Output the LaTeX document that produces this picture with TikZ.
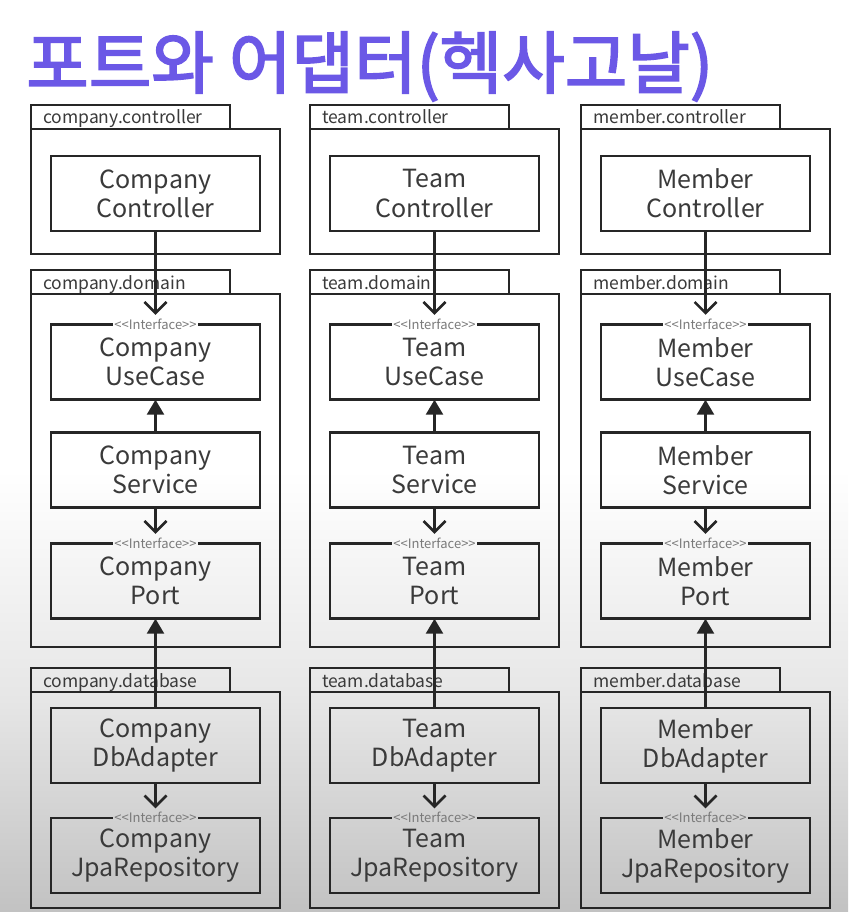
\documentclass[tikz,border=0pt]{standalone}
\usepackage{fontspec}
\setmainfont{Noto Sans CJK KR}
\newfontfamily\titlefont[FakeBold=2.5]{Noto Sans CJK KR}
\usetikzlibrary{arrows.meta}
\definecolor{linec}{HTML}{262626}
\definecolor{textc}{HTML}{3A3A3A}
\definecolor{ifc}{HTML}{7A7A7A}
\definecolor{titlec}{RGB}{107,88,230}
\definecolor{bgmid}{HTML}{E6E6E6}
\definecolor{bgbot}{HTML}{C2C2C2}
\newcommand\ifacetxt{<\kern0pt<Interface>\kern0pt>}
\begin{document}
\begin{tikzpicture}[x=1pt,y=-1pt,
  ln/.style={line width=2.5pt, draw=linec},
  box/.style={minimum width=209pt, minimum height=75pt, inner sep=0pt, align=center,
    font=\fontsize{25}{29}\selectfont, text=textc},
  iface/.style={font=\fontsize{13}{13}\selectfont, text=ifc, inner xsep=1.5pt, inner ysep=1pt},
  pkglbl/.style={anchor=base west, font=\fontsize{17.5}{19}\selectfont, text=textc, inner sep=0pt},
  dep/.style={ln, -{Straight Barb[length=11pt,width=22pt]}},
  real/.style={ln, -{Triangle[length=15pt,width=17pt]}},
]
\useasboundingbox (0,0) rectangle (848,912);
\fill[white] (0,0) rectangle (848,912);
\shade[top color=white, bottom color=bgmid] (0,470) rectangle (848,700);
\shade[top color=bgmid, bottom color=bgbot] (0,699.5) rectangle (848,912);

\node[anchor=base west, font=\titlefont\fontsize{68}{74}\selectfont, text=titlec, inner sep=0pt]
  (title) at (26,88) {포트와 어댑터(헥사고날)};

\foreach \i/\L/\N/\p in {1/31/Company/company, 2/310/Team/team, 3/581/Member/member}{
  % packages
  \draw[ln] (\L,105) rectangle (\L+199,129);
  \draw[ln] (\L,129) rectangle (\L+249,254);
  \node[pkglbl] (pc\i) at (\L+12,124) {\p.controller};
  \draw[ln] (\L,270) rectangle (\L+199,294);
  \draw[ln] (\L,294) rectangle (\L+249,647);
  \node[pkglbl] (pd\i) at (\L+12,289) {\p.domain};
  \draw[ln] (\L,668) rectangle (\L+199,692);
  \draw[ln] (\L,692) rectangle (\L+249,908);
  \node[pkglbl] (pb\i) at (\L+12,687) {\p.database};
  % plain boxes
  \node[box, ln, draw] (ctl\i) at (\L+124.5,193.5) {\N\\Controller};
  \node[box, ln, draw] (svc\i) at (\L+124.5,470) {\N\\Service};
  \node[box, ln, draw] (db\i) at (\L+124.5,745.5) {\N\\DbAdapter};
  % interface boxes
  \node[box] (uc\i) at (\L+124.5,362) {\N\\UseCase};
  \node[iface] (ucl\i) at (uc\i.north) {\ifacetxt};
  \draw[ln] (ucl\i.west) -- (uc\i.north west) -- (uc\i.south west) -- (uc\i.south east) -- (uc\i.north east) -- (ucl\i.east);
  \node[box] (pt\i) at (\L+124.5,581) {\N\\Port};
  \node[iface] (ptl\i) at (pt\i.north) {\ifacetxt};
  \draw[ln] (ptl\i.west) -- (pt\i.north west) -- (pt\i.south west) -- (pt\i.south east) -- (pt\i.north east) -- (ptl\i.east);
  \node[box] (jp\i) at (\L+124.5,855.5) {\N\\JpaRepository};
  \node[iface] (jpl\i) at (jp\i.north) {\ifacetxt};
  \draw[ln] (jpl\i.west) -- (jp\i.north west) -- (jp\i.south west) -- (jp\i.south east) -- (jp\i.north east) -- (jpl\i.east);
  % connectors
  \draw[dep, shorten >=3pt] (ctl\i.south) -- (ucl\i.north);
  \draw[real] (svc\i.north) -- (uc\i.south);
  \draw[dep, shorten >=3pt] (svc\i.south) -- (ptl\i.north);
  \draw[real] (db\i.north) -- (pt\i.south);
  \draw[dep, shorten >=3pt] (db\i.south) -- (jpl\i.north);
}
\end{tikzpicture}
\end{document}
